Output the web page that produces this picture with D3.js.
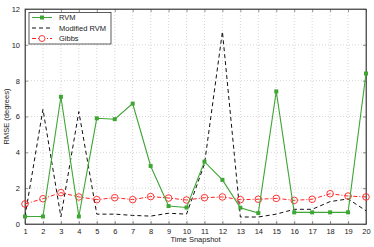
<!DOCTYPE html>
<html><head><meta charset="utf-8">
<script src="https://cdn.jsdelivr.net/npm/d3@7"></script>
<style>body{margin:0;background:#fff}svg{display:block}text{font-family:"Liberation Sans",Arial,sans-serif}</style>
</head><body>
<svg id="c" width="374" height="247"></svg>
<script>
const snapshots = d3.range(1, 21);
const rvm = [0.42,0.42,7.1,0.42,5.9,5.85,6.72,3.24,1.0,0.92,3.48,2.46,0.91,0.61,7.4,0.65,0.65,0.65,0.65,8.4];
const modRvm = [0.42,6.4,0.4,6.27,0.55,0.55,0.48,0.44,0.6,0.55,3.35,10.74,0.39,0.39,0.55,0.82,0.82,1.25,1.4,0.74];
const gibbs = [1.12,1.41,1.75,1.51,1.36,1.47,1.36,1.53,1.45,1.34,1.47,1.51,1.36,1.38,1.43,1.32,1.38,1.69,1.56,1.51];
const yTicks = [0,2,4,6,8,10,12];

const svg = d3.select("#c");
const L=25, R=366, T=9, B=224;
const x = d3.scaleLinear().domain([1,20]).range([L,R]);
const y = d3.scaleLinear().domain([0,12]).range([B,T]);

// grid
const g = svg.append("g");
g.selectAll(".gx").data(snapshots.slice(1,-1)).join("line")
  .attr("x1",d=>x(d)).attr("x2",d=>x(d)).attr("y1",T).attr("y2",B)
  .attr("stroke","#bbb").attr("stroke-width",0.6).attr("stroke-dasharray","1,2");
g.selectAll(".gy").data(yTicks.slice(1,-1)).join("line")
  .attr("x1",L).attr("x2",R).attr("y1",d=>y(d)).attr("y2",d=>y(d))
  .attr("stroke","#bbb").attr("stroke-width",0.6).attr("stroke-dasharray","1,2");

// axes
const fs = 7.5;
const xa = svg.append("g").attr("transform",`translate(0,${B})`)
  .call(d3.axisBottom(x).tickValues(snapshots).tickFormat(d3.format("d")).tickSizeInner(-3).tickSizeOuter(0).tickPadding(5));
const xt = svg.append("g").attr("transform",`translate(0,${T})`)
  .call(d3.axisTop(x).tickValues(snapshots).tickFormat("").tickSizeInner(-3).tickSizeOuter(0));
const ya = svg.append("g").attr("transform",`translate(${L},0)`)
  .call(d3.axisLeft(y).tickValues(yTicks).tickSizeInner(-3).tickSizeOuter(0).tickPadding(5));
const yr = svg.append("g").attr("transform",`translate(${R},0)`)
  .call(d3.axisRight(y).tickValues(yTicks).tickFormat("").tickSizeInner(-3).tickSizeOuter(0));
[xa,xt,ya,yr].forEach(a=>{
  a.select(".domain").attr("stroke","#444").attr("stroke-width",0.8);
  a.selectAll(".tick line").attr("stroke","#444").attr("stroke-width",0.6);
  a.selectAll("text").attr("font-size",fs).attr("fill","#222").style("font-family",'"Liberation Sans",Arial,sans-serif');
});
svg.append("rect").attr("x",L).attr("y",T).attr("width",R-L).attr("height",B-T)
  .attr("fill","none").attr("stroke","#444").attr("stroke-width",0.8);

// labels
svg.append("text").attr("x",(L+R)/2).attr("y",242).attr("text-anchor","middle")
  .attr("font-size",7.5).attr("fill","#222").text("Time Snapshot");
svg.append("text").attr("transform",`translate(9,${(T+B)/2}) rotate(-90)`).attr("text-anchor","middle")
  .attr("font-size",7.5).attr("fill","#222").text("RMSE (degrees)");

const line = d3.line().x((d,i)=>x(snapshots[i])).y(d=>y(d));
const green = "#3fa535";
// modified RVM
svg.append("path").datum(modRvm).attr("d",line).attr("fill","none")
  .attr("stroke","#111").attr("stroke-width",1).attr("stroke-dasharray","4,3");
// Gibbs
svg.append("path").datum(gibbs).attr("d",line).attr("fill","none")
  .attr("stroke","#ff2020").attr("stroke-width",1).attr("stroke-dasharray","4,2,1,2");
svg.selectAll(".gc").data(gibbs).join("circle")
  .attr("cx",(d,i)=>x(snapshots[i])).attr("cy",d=>y(d)).attr("r",3.3)
  .attr("fill","none").attr("stroke","#ff2020").attr("stroke-width",0.9);
// RVM
svg.append("path").datum(rvm).attr("d",line).attr("fill","none")
  .attr("stroke",green).attr("stroke-width",1.1);
svg.selectAll(".rs").data(rvm).join("rect")
  .attr("x",(d,i)=>x(snapshots[i])-2).attr("y",d=>y(d)-2).attr("width",4).attr("height",4)
  .attr("fill",green);

// legend
const lg = svg.append("g");
lg.append("rect").attr("x",29).attr("y",12.5).attr("width",82).attr("height",31.5)
  .attr("fill","#fff").attr("stroke","#333").attr("stroke-width",0.8);
const items = [
  {name:"RVM", color:green, dash:null, mark:"sq"},
  {name:"Modified RVM", color:"#111", dash:"4,3", mark:null},
  {name:"Gibbs", color:"#ff2020", dash:"4,2,1,2", mark:"ci"}
];
items.forEach((it,i)=>{
  const yy = 17.5 + i*10.5;
  lg.append("line").attr("x1",32).attr("x2",52).attr("y1",yy).attr("y2",yy)
    .attr("stroke",it.color).attr("stroke-width",1).attr("stroke-dasharray",it.dash);
  if(it.mark==="sq") lg.append("rect").attr("x",40).attr("y",yy-2).attr("width",4).attr("height",4).attr("fill",it.color);
  if(it.mark==="ci") lg.append("circle").attr("cx",42).attr("cy",yy).attr("r",3).attr("fill","#fff").attr("stroke",it.color).attr("stroke-width",0.9);
  lg.append("text").attr("x",59).attr("y",yy+2.6).attr("font-size",7.5).attr("fill","#222").text(it.name);
});
</script>
</body></html>
